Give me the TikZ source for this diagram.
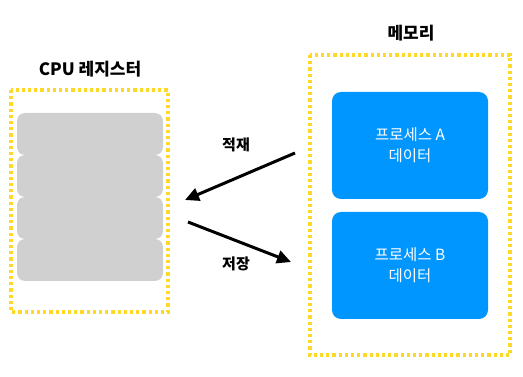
\documentclass[tikz,border=0pt]{standalone}
\usepackage{fontspec}
\newfontfamily\kr{Noto Sans CJK KR}
\usetikzlibrary{arrows.meta}
\definecolor{ylw}{RGB}{255,217,40}
\definecolor{regray}{RGB}{208,208,208}
\definecolor{procblue}{RGB}{0,150,255}
\tikzset{
  dotbox/.style={draw=ylw, line width=3.2pt, dash pattern=on 3.2pt off 3pt},
  regbox/.style={fill=regray, rounded corners=8pt},
  procbox/.style={fill=procblue, rounded corners=9pt, text=white, align=center, font=\kr\fontsize{15.5pt}{21pt}\selectfont},
  title/.style={font=\kr\bfseries\fontsize{17pt}{20pt}\selectfont},
  lbl/.style={font=\kr\bfseries\fontsize{15pt}{18pt}\selectfont},
  arr/.style={line width=3pt, -{Triangle[length=14pt,width=13pt]}}
}
\begin{document}
\begin{tikzpicture}[x=1pt,y=-1pt]
\useasboundingbox (0,0) rectangle (523,377);
% CPU
\node[title] (cputitle) at (90,69) {CPU 레지스터};
\draw[dotbox] (11,90) rectangle (168,312);
\path[regbox] (17,113) rectangle (163,155);
\path[regbox] (17,155) rectangle (163,197);
\path[regbox] (17,197) rectangle (163,239);
\path[regbox] (17,239) rectangle (163,281);
% Memory
\node[title] (memtitle) at (411,33) {메모리};
\draw[dotbox] (310,55) rectangle (510,355);
\node[procbox, minimum width=156pt, minimum height=107pt] (pa) at (410,145.5) {프로세스 A\\데이터};
\node[procbox, minimum width=156pt, minimum height=107pt] (pb) at (410,265.5) {프로세스 B\\데이터};
% arrows
\coordinate (a1) at (295,153);
\coordinate (a2) at (185,200);
\coordinate (b1) at (188,222);
\coordinate (b2) at (291,262);
\draw[arr] (a1) -- (a2);
\draw[arr] (b1) -- (b2);
\node[lbl] (load) at (236,145) {적재};
\node[lbl] (store) at (236,264) {저장};
\end{tikzpicture}
\end{document}
